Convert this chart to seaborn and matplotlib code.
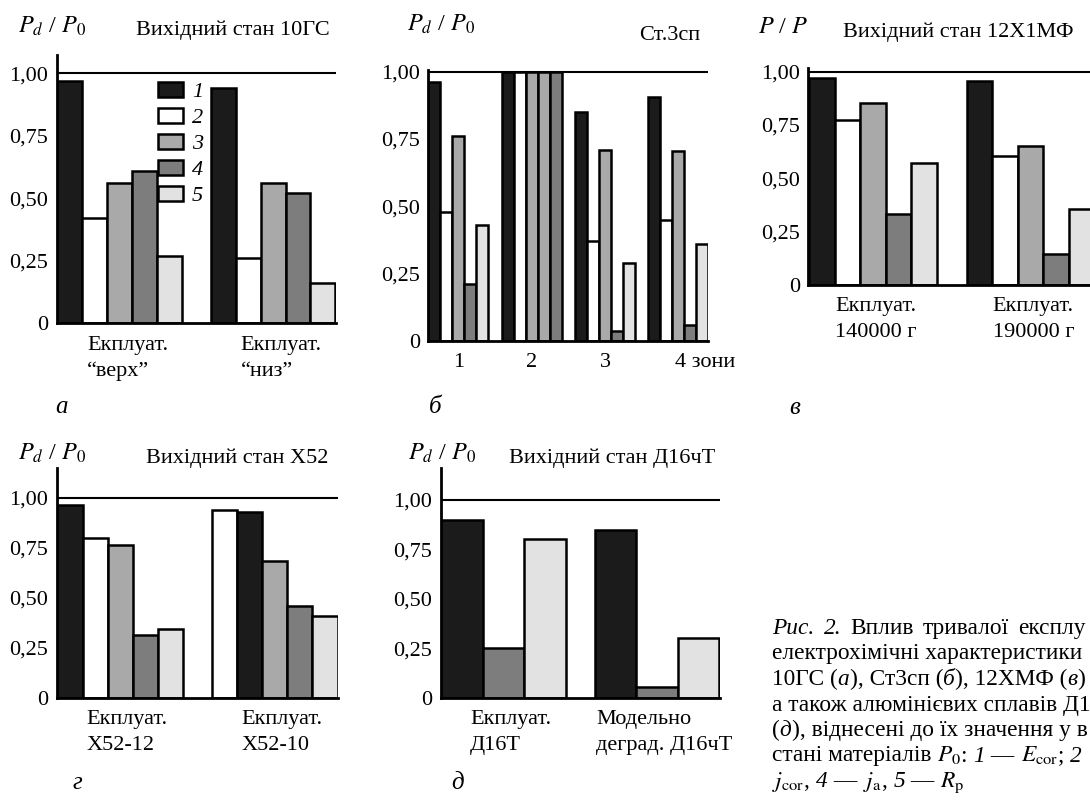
import matplotlib
matplotlib.use("Agg")
import numpy as np
import pandas as pd
import matplotlib.pyplot as plt
import seaborn as sns
from matplotlib.patches import Patch
from matplotlib.transforms import ScaledTranslation

sns.set_theme(style="white")
plt.rcParams['font.family'] = ['Liberation Serif', 'DejaVu Serif']
plt.rcParams['mathtext.fontset'] = 'stix'
for k in ['text.color', 'axes.labelcolor', 'xtick.color', 'ytick.color', 'axes.edgecolor']:
    plt.rcParams[k] = 'black'

W, H = 1090, 801
fig = plt.figure(figsize=(W / 100, H / 100), dpi=100)

# ---------------- data ----------------
SERIES_COLORS = {1: '#1b1b1b', 2: '#ffffff', 3: '#a9a9a9', 4: '#7d7d7d', 5: '#e2e2e2'}
LEGEND_LABELS = ['1', '2', '3', '4', '5']
Y_TICKS = [0, 0.25, 0.5, 0.75, 1.0]
Y_TICK_LABELS = ['0', '0,25', '0,50', '0,75', '1,00']

A_GROUPS = ["Екплуат.\n“верх”", "Екплуат.\n“низ”"]
A_VALUES = [[0.97, 0.42, 0.56, 0.61, 0.27], [0.94, 0.26, 0.56, 0.52, 0.16]]
A_SERIES = [[1, 2, 3, 4, 5], [1, 2, 3, 4, 5]]

B_GROUPS = ["1", "2", "3", "4 зони"]
B_VALUES = [[0.96, 0.48, 0.76, 0.21, 0.43],
            [1.0, 1.0, 1.0, 1.0, 1.0],
            [0.85, 0.37, 0.71, 0.035, 0.29],
            [0.905, 0.45, 0.705, 0.06, 0.36]]
B_SERIES = [[1, 2, 3, 4, 5], [1, 2, 3, 3, 4], [1, 2, 3, 4, 5], [1, 2, 3, 4, 5]]

V_GROUPS = ["Екплуат.\n140000 г", "Екплуат.\n190000 г"]
V_VALUES = [[0.97, 0.775, 0.855, 0.335, 0.57], [0.955, 0.605, 0.65, 0.145, 0.355]]
V_SERIES = [[1, 2, 3, 4, 5], [1, 2, 3, 4, 5]]

G_GROUPS = ["Екплуат.\nX52-12", "Екплуат.\nX52-10"]
G_VALUES = [[0.965, 0.80, 0.765, 0.315, 0.345], [0.94, 0.93, 0.685, 0.46, 0.41]]
G_SERIES = [[1, 2, 3, 4, 5], [2, 1, 3, 4, 5]]

D_GROUPS = ["Екплуат.\nД16Т", "Модельно\nдеград. Д16чТ"]
D_VALUES = [[0.90, 0.25, 0.80], [0.85, 0.055, 0.30]]
D_SERIES = [[1, 4, 5], [1, 4, 5]]


def px_rect(left, top, right, bottom):
    return [left / W, 1 - bottom / H, (right - left) / W, (bottom - top) / H]


def ftext(x, y, s, **kw):
    kw.setdefault('va', 'baseline')
    return fig.text(x / W, 1 - y / H, s, **kw)


def draw_panel(rect, groups, values, series, ytop, width=0.81, mid_tick=False, label_dx=0.0):
    ax = fig.add_axes(px_rect(*rect))
    n_slots = len(values[0])
    slots = [f"s{i}" for i in range(n_slots)]
    rows = []
    for gi, g in enumerate(groups):
        for si, v in enumerate(values[gi]):
            rows.append({"group": g, "slot": slots[si], "value": v})
    df = pd.DataFrame(rows)
    sns.barplot(data=df, x="group", y="value", hue="slot", order=groups, hue_order=slots,
                palette=["#ffffff"] * n_slots, width=width, gap=0, saturation=1, dodge=True,
                edgecolor="black", linewidth=1.8, legend=False, ax=ax, errorbar=None)
    for si, cont in enumerate(ax.containers):
        for bar in cont:
            gi = int(round(bar.get_x() + bar.get_width() / 2))
            bar.set_facecolor(SERIES_COLORS[series[gi][si]])
    ax.set_xlim(-0.41, len(groups) - 1 + 0.41)
    ax.set_ylim(0, ytop)
    ax.axhline(1.0, color='black', lw=1.5, zorder=3)
    ax.set_yticks(Y_TICKS, Y_TICK_LABELS)
    ax.tick_params(axis='y', length=0, pad=6, labelsize=16)
    ax.set_xticks(range(len(groups)), groups)
    ax.tick_params(axis='x', direction='in', length=7, width=1.5, pad=9, labelsize=16)
    if mid_tick:
        ax.set_xticks([0.5], minor=True)
        ax.tick_params(axis='x', which='minor', direction='in', length=7, width=1.5)
    for lab in ax.get_xticklabels():
        lab.set_multialignment('left')
        lab.set_linespacing(1.48)
        if label_dx:
            lab.set_transform(lab.get_transform() + ScaledTranslation(label_dx / 100, 0, fig.dpi_scale_trans))
    for s in ['top', 'right']:
        ax.spines[s].set_visible(False)
    for s in ['left', 'bottom']:
        ax.spines[s].set_linewidth(2.0)
        ax.spines[s].set_color('black')
    ax.set_xlabel('')
    ax.set_ylabel('')
    return ax


# panel a
ax_a = draw_panel((56.7, 55, 336, 323.3), A_GROUPS, A_VALUES, A_SERIES, 1.073, mid_tick=True, label_dx=8)
handles = [Patch(facecolor=SERIES_COLORS[i], edgecolor='black', linewidth=1.8) for i in range(1, 6)]
ax_a.legend(handles, LEGEND_LABELS, loc='upper left', bbox_to_anchor=(0.363, 0.90), frameon=False,
            handlelength=1.13, handleheight=0.68, labelspacing=0.25, handletextpad=0.4,
            borderpad=0, borderaxespad=0, prop={'style': 'italic', 'size': 16})

# panel b
ax_b = draw_panel((428.3, 70, 708.3, 340.7), B_GROUPS, B_VALUES, B_SERIES, 1.006, width=0.82)
lab = ax_b.get_xticklabels()[-1]
lab.set_ha('left')
lab.set_transform(lab.get_transform() + ScaledTranslation(-3.5 / 100, 0, fig.dpi_scale_trans))

# panel v
ax_v = draw_panel((808.3, 68.3, 1095, 285), V_GROUPS, V_VALUES, V_SERIES, 1.016, label_dx=3)

# panel g
ax_g = draw_panel((56.7, 468.3, 338.3, 697.7), G_GROUPS, G_VALUES, G_SERIES, 1.147, mid_tick=True, label_dx=7)

# panel d
ax_d = draw_panel((440.7, 468.3, 720, 697.7), D_GROUPS, D_VALUES, D_SERIES, 1.16, label_dx=7)

# titles
ftext(330, 35, "Вихідний стан 10ГС", ha='right', fontsize=16)
ftext(700, 40, "Ст.3сп", ha='right', fontsize=16)
ftext(843, 37, "Вихідний стан 12Х1МФ", ha='left', fontsize=16)
ftext(328, 463, "Вихідний стан X52", ha='right', fontsize=16)
ftext(715, 463, "Вихідний стан Д16чТ", ha='right', fontsize=16)

# y labels
YL = r"$P_d$ / $P_0$"
ftext(18, 33, YL, fontsize=17.5)
ftext(407, 31, YL, fontsize=17.5)
ftext(758, 33, r"$P$ / $P$", fontsize=17.5)
ftext(18, 460, YL, fontsize=17.5)
ftext(408, 460, YL, fontsize=17.5)

# panel letters
for x, y, s in [(61, 407, 'а'), (435, 407, 'б'), (795, 408, 'в'), (77, 783, 'г'), (458, 783, 'д')]:
    ftext(x, y, s, ha='center', va='center', fontsize=18, fontstyle='italic')

# caption (the visible part of the figure caption)
renderer = fig.canvas.get_renderer()
CAP_SIZE = 16.8


def segs(x, y, parts, size=CAP_SIZE):
    for txt, style in parts:
        t = ftext(x, y, txt, fontsize=size, fontstyle=style, ha='left')
        bb = t.get_window_extent(renderer)
        x += bb.width


def justified(x0, x1, y, words, size=CAP_SIZE):
    texts = [ftext(x0, y, w, fontsize=size, fontstyle=st, ha='left') for w, st in words]
    widths = [t.get_window_extent(renderer).width for t in texts]
    gap = (x1 - x0 - sum(widths)) / (len(words) - 1)
    x = x0
    for t, w in zip(texts, widths):
        t.set_x(x / W)
        x += w + gap


CAP_X = 772
CAP_Y0 = 634
CAP_STEP = 25.5
justified(CAP_X, 1086, CAP_Y0, [("Рис.", 'italic'), ("2.", 'italic'), ("Вплив", 'normal'),
                                ("тривалої", 'normal'), ("експлу", 'normal')])
cap_lines = [
    [("електрохімічні характеристики", 'normal')],
    [("10ГС (", 'normal'), ("а", 'italic'), ("), Ст3сп (", 'normal'), ("б", 'italic'),
     ("), 12ХМФ (", 'normal'), ("в", 'italic'), (")", 'normal')],
    [("а також алюмінієвих сплавів Д1", 'normal')],
    [("(", 'normal'), ("д", 'italic'), ("), віднесені до їх значення у в", 'normal')],
    [("стані матеріалів ", 'normal'), (r"$P_0$", 'italic'), (": ", 'normal'), ("1", 'italic'),
     (" — ", 'normal'), (r"$E_{\mathrm{cor}}$", 'italic'), ("; ", 'normal'), ("2", 'italic')],
    [(r"$j_{\mathrm{cor}}$", 'italic'), (", ", 'normal'), ("4", 'italic'), (" — ", 'normal'),
     (r"$j_{\mathrm{a}}$", 'italic'), (", ", 'normal'), ("5", 'italic'), (" — ", 'normal'),
     (r"$R_{\mathrm{p}}$", 'italic')],
]
for i, parts in enumerate(cap_lines):
    segs(CAP_X, CAP_Y0 + (i + 1) * CAP_STEP, parts)

fig.savefig("out.png", dpi=100)
